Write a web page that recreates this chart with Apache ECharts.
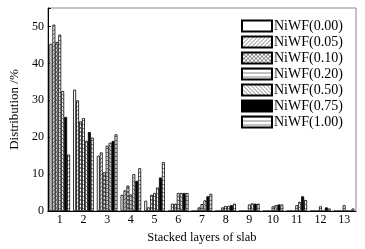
<!DOCTYPE html>
<html><head><meta charset="utf-8">
<script src="https://cdn.jsdelivr.net/npm/echarts@6/dist/echarts.min.js"></script>
<style>html,body{margin:0;padding:0;background:#fff}#c{width:365px;height:249px}</style>
</head><body><div id="c"></div>
<script>
const categories = ['1','2','3','4','5','6','7','8','9','10','11','12','13'];
const seriesNames = ['NiWF(0.00)','NiWF(0.05)','NiWF(0.10)','NiWF(0.20)','NiWF(0.50)','NiWF(0.75)','NiWF(1.00)'];
const s000 = [45.3, 32.9, 15.0, 4.4, 2.8, 0,   0,   0,   0,   0,   0,   0,   0];
const s005 = [50.5, 30.0, 15.9, 5.6, 1.0, 2.0, 0,   0,   0,   0,   0,   0,   0];
const s010 = [45.8, 24.3, 10.5, 6.9, 4.4, 2.0, 1.0, 1.0, 0,   0,   0,   0,   0];
const s020 = [47.8, 25.2, 17.7, 4.5, 4.9, 4.9, 1.9, 1.4, 1.8, 1.3, 1.6, 1.3, 1.6];
const s050 = [32.5, 19.0, 18.5, 10.0, 6.4, 4.9, 2.9, 1.4, 2.1, 1.6, 2.5, 0,  0];
const s075 = [25.5, 21.4, 19.0, 8.2, 9.1, 4.9, 4.0, 1.6, 2.0, 1.8, 4.0, 1.0, 0];
const s100 = [15.3, 19.9, 20.8, 11.6, 13.3, 4.9, 4.7, 2.0, 2.0, 1.8, 3.0, 0.7, 0.7];
const yTicks = [0, 10, 20, 30, 40, 50];
const allSeries = [s000, s005, s010, s020, s050, s075, s100];

function pat(kind) {
  const c = document.createElement('canvas');
  const n = 4; c.width = n; c.height = n;
  const g = c.getContext('2d');
  g.fillStyle = kind === 'black' ? '#000' : '#fff';
  g.fillRect(0, 0, n, n);
  g.strokeStyle = '#333'; g.lineWidth = 0.6;
  if (kind === 'fwd' || kind === 'cross') {
    g.beginPath(); g.moveTo(0, n); g.lineTo(n, 0); g.moveTo(-1, 1); g.lineTo(1, -1); g.moveTo(n - 1, n + 1); g.lineTo(n + 1, n - 1); g.stroke();
  }
  if (kind === 'back' || kind === 'cross') {
    g.beginPath(); g.moveTo(0, 0); g.lineTo(n, n); g.moveTo(n - 1, -1); g.lineTo(n + 1, 1); g.moveTo(-1, n - 1); g.lineTo(1, n + 1); g.stroke();
  }
  if (kind === 'hor') {
    g.beginPath(); g.moveTo(0, 0.5); g.lineTo(n, 0.5); g.stroke();
  }
  return { image: c, repeat: 'repeat' };
}
const kinds = ['none', 'fwd', 'cross', 'hor', 'back', 'black', 'hor'];
const font = "'Liberation Serif', 'Times New Roman', serif";

const chart = echarts.init(document.getElementById('c'), null, { renderer: 'canvas' });
chart.setOption({
  animation: false,
  textStyle: { fontFamily: font },
  grid: { left: 41, right: 9, top: 8, bottom: 33, show: true, borderColor: '#888', borderWidth: 1 },
  legend: {
    orient: 'vertical', left: 241, top: 19, padding: 0, itemWidth: 30, itemHeight: 11, itemGap: 2,
    icon: 'rect',
    textStyle: { fontFamily: font, fontSize: 14, lineHeight: 10, color: '#000', padding: [0, 0, 0, -3] },
    data: seriesNames
  },
  xAxis: {
    type: 'category', data: categories,
    name: 'Stacked layers of slab', nameLocation: 'middle', nameGap: 18,
    nameTextStyle: { fontFamily: font, fontSize: 12.5, color: '#000' },
    axisLine: { lineStyle: { color: '#000' } },
    axisTick: { show: false },
    axisLabel: { fontFamily: font, fontSize: 12, color: '#000', margin: 3 }
  },
  yAxis: {
    type: 'value', min: 0, max: 55, interval: 10,
    name: 'Distribution /%', nameLocation: 'middle', nameGap: 25,
    nameTextStyle: { fontFamily: font, fontSize: 13, color: '#000' },
    axisLine: { show: true, lineStyle: { color: '#000' } },
    axisTick: { show: true, inside: true, length: 3, lineStyle: { color: '#000' } },
    axisLabel: { fontFamily: font, fontSize: 12, color: '#000', margin: 4,
      formatter: v => yTicks.includes(v) ? String(v) : '' },
    splitLine: { show: false }
  },
  series: allSeries.map((d, i) => ({
    name: seriesNames[i], type: 'bar', data: d,
    barGap: '0%', barCategoryGap: '13%',
    itemStyle: { color: kinds[i] === 'none' ? '#fff' : pat(kinds[i]), borderColor: '#000', borderWidth: 0.8 }
  }))
});
</script></body></html>
